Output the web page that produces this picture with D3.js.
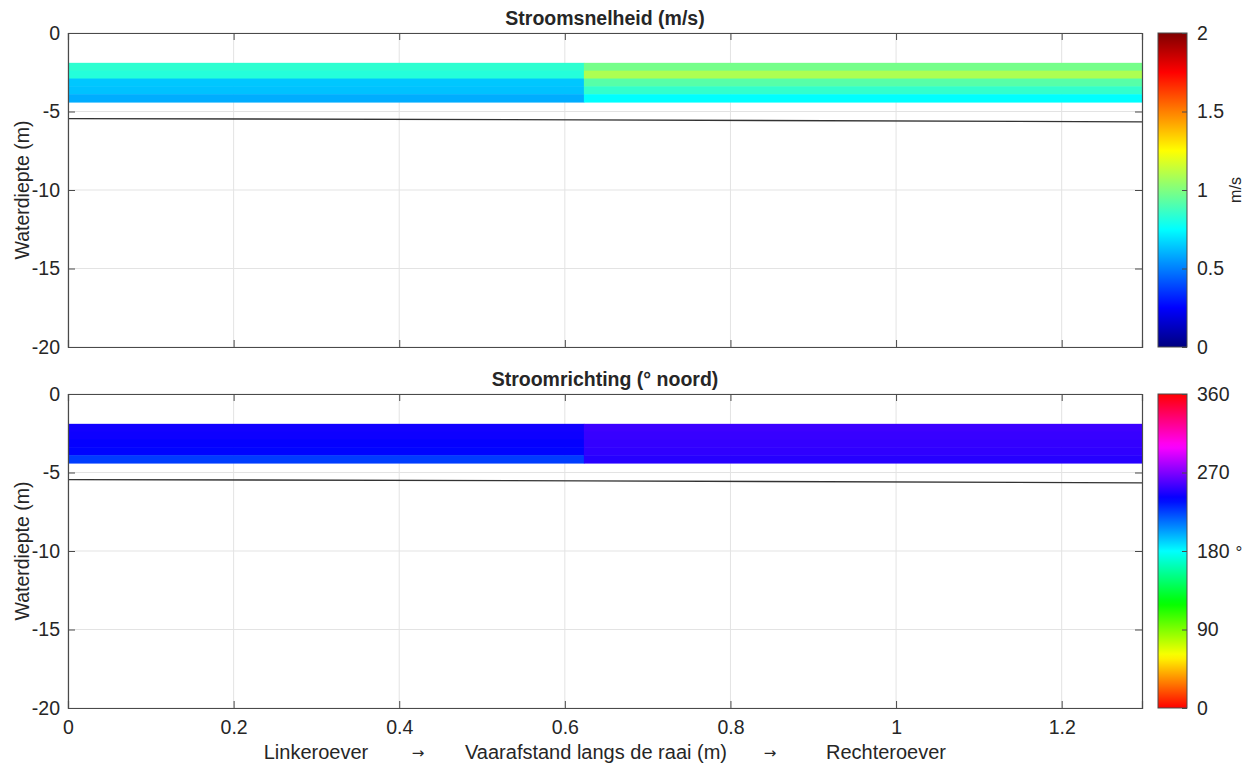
<!DOCTYPE html>
<html><head><meta charset="utf-8">
<script src="https://cdn.jsdelivr.net/npm/d3@7"></script>
<style>
body{margin:0;background:#fff;}
text{font-family:"Liberation Sans",Arial,Helvetica,sans-serif;fill:#262626;}
</style></head>
<body><svg id="chart" width="1252" height="769"></svg>
<script>
// ---- data ----
const xEdges = [0, 0.623, 1.297];              // distance bins (m)
const depthEdges = [1.9, 2.4, 2.9, 3.4, 3.9, 4.4]; // depth bins (m below surface)
const speed = [                                 // m/s, per column, rows top->bottom
  [0.84, 0.82, 0.64, 0.63, 0.59],
  [0.98, 1.09, 0.92, 0.85, 0.75]
];
const direction = [                             // degrees north
  [244, 243, 241, 239, 226],
  [254, 253, 252, 251, 249]
];
const bedX = [0, 0.62, 1.297];
const bedDepth = [-5.45, -5.53, -5.66];
const xTicks = [0, 0.2, 0.4, 0.6, 0.8, 1, 1.2];
const yTicks = [0, -5, -10, -15, -20];
const speedTicks = [0, 0.5, 1, 1.5, 2];
const dirTicks = [0, 90, 180, 270, 360];

// ---- colormaps ----
function jet(t){
  t = Math.max(0, Math.min(1, t));
  const f = x => Math.max(0, Math.min(1, x));
  const r = f(Math.min(4*t - 1.5, -4*t + 4.5));
  const g = f(Math.min(4*t - 0.5, -4*t + 3.5));
  const b = f(Math.min(4*t + 0.5, -4*t + 2.5));
  return d3.rgb(r*255, g*255, b*255).toString();
}
function hsvMap(t){ return d3.hsl(((t*360)%360), 1, 0.5).toString(); }

const fmt = d => String(d);
const FS = 19.5;
const svg = d3.select("#chart");
const defs = svg.append("defs");
const L = 68, R = 1142;
const x = d3.scaleLinear().domain([0, 1.297]).range([L, R]);

const panels = [
  {top:33, bottom:347, values:speed, domain:[0,2], cmap:jet, title:"Stroomsnelheid (m/s)", ticks:speedTicks, unit:"m/s", showX:false, id:"g1"},
  {top:394, bottom:708, values:direction, domain:[0,360], cmap:hsvMap, title:"Stroomrichting (° noord)", ticks:dirTicks, unit:"°", showX:true, id:"g2"}
];

panels.forEach(p => {
  const y = d3.scaleLinear().domain([-20, 0]).range([p.bottom, p.top]);
  const c = d3.scaleLinear().domain(p.domain).range([0,1]);
  const g = svg.append("g");
  // grid
  g.selectAll(".gx").data(xTicks).join("line")
    .attr("x1", d=>x(d)).attr("x2", d=>x(d)).attr("y1", p.top).attr("y2", p.bottom)
    .attr("stroke", "#e3e3e3").attr("stroke-width", 1);
  g.selectAll(".gy").data(yTicks).join("line")
    .attr("x1", L).attr("x2", R).attr("y1", d=>y(d)).attr("y2", d=>y(d))
    .attr("stroke", "#e3e3e3").attr("stroke-width", 1);
  // cells
  const cells = [];
  p.values.forEach((col, ci) => col.forEach((v, ri) => cells.push({ci, ri, v})));
  g.selectAll(".cell").data(cells).join("rect")
    .attr("x", d => x(xEdges[d.ci]))
    .attr("width", d => x(xEdges[d.ci+1]) - x(xEdges[d.ci]) + 0.5)
    .attr("y", d => y(-depthEdges[d.ri]))
    .attr("height", d => y(-depthEdges[d.ri+1]) - y(-depthEdges[d.ri]) + 0.5)
    .attr("fill", d => p.cmap(c(d.v)));
  // bed line
  const line = d3.line().x((d,i)=>x(bedX[i])).y(d=>y(d));
  g.append("path").datum(bedDepth).attr("d", line).attr("fill","none")
    .attr("stroke", "#333").attr("stroke-width", 1.3);
  // axes
  const ax = g.append("g").attr("transform", `translate(0,${p.bottom})`)
    .call(d3.axisBottom(x).tickValues(xTicks).tickSize(-7).tickPadding(12)
      .tickFormat(p.showX ? fmt : ""));
  const axT = g.append("g").attr("transform", `translate(0,${p.top})`)
    .call(d3.axisTop(x).tickValues(xTicks).tickSize(-7).tickFormat(""));
  const ay = g.append("g").attr("transform", `translate(${L},0)`)
    .call(d3.axisLeft(y).tickValues(yTicks).tickSize(-7).tickPadding(8).tickFormat(fmt));
  const ayR = g.append("g").attr("transform", `translate(${R},0)`)
    .call(d3.axisRight(y).tickValues(yTicks).tickSize(-7).tickFormat(""));
  [ax, axT, ay, ayR].forEach(a => {
    a.select(".domain").attr("stroke", "#4a4a4a").attr("stroke-width", 1.2);
    a.selectAll(".tick line").attr("stroke", "#4a4a4a");
    a.selectAll(".tick text").attr("font-size", FS).attr("fill", "#262626")
      .style("font-family", "'Liberation Sans',Arial,sans-serif");
  });
  // title
  svg.append("text").attr("x", (L+R)/2).attr("y", p.top - 8).attr("text-anchor","middle")
    .attr("font-size", 19.5).attr("font-weight","bold").attr("fill","#000").text(p.title);
  // y label
  svg.append("text").attr("transform", `translate(29,${(p.top+p.bottom)/2}) rotate(-90)`)
    .attr("text-anchor","middle").attr("font-size", FS).text("Waterdiepte (m)");
  // colorbar
  const cbX = 1158, cbW = 29;
  const grad = defs.append("linearGradient").attr("id", p.id)
    .attr("x1","0").attr("y1","1").attr("x2","0").attr("y2","0");
  d3.range(0, 1.0001, 1/64).forEach(t => grad.append("stop")
    .attr("offset", t).attr("stop-color", p.cmap(t)));
  const cy = d3.scaleLinear().domain(p.domain).range([p.bottom, p.top]);
  svg.append("rect").attr("x", cbX).attr("y", p.top).attr("width", cbW)
    .attr("height", p.bottom - p.top).attr("fill", `url(#${p.id})`)
    .attr("stroke", "#4a4a4a").attr("stroke-width", 1);
  const cb = svg.append("g").attr("transform", `translate(${cbX+cbW},0)`)
    .call(d3.axisRight(cy).tickValues(p.ticks).tickSize(-5).tickPadding(10).tickFormat(fmt));
  cb.select(".domain").remove();
  cb.selectAll(".tick line").attr("stroke", "#4a4a4a");
  cb.selectAll(".tick text").attr("font-size", FS).attr("fill","#262626")
    .style("font-family", "'Liberation Sans',Arial,sans-serif");
  if (p.unit === "m/s") {
    svg.append("text").attr("transform", `translate(1241,${(p.top+p.bottom)/2}) rotate(-90)`)
      .attr("text-anchor","middle").attr("font-size", 16).text(p.unit);
  } else {
    svg.append("text").attr("x", 1239).attr("y", (p.top+p.bottom)/2 + 7)
      .attr("text-anchor","middle").attr("font-size", 17).text(p.unit);
  }
});

// x label pieces
const xl = [["Linkeroever", 316, 20, "Liberation Sans"], ["→", 418, 15, "DejaVu Sans"],
            ["Vaarafstand langs de raai (m)", 596, 20, "Liberation Sans"], ["→", 770, 15, "DejaVu Sans"],
            ["Rechteroever", 886, 20, "Liberation Sans"]];
svg.selectAll(".xl").data(xl).join("text")
  .attr("x", d=>d[1]).attr("y", d => d[3] === "DejaVu Sans" ? 758 : 759).attr("text-anchor","middle")
  .attr("font-size", d=>d[2]).style("font-family", d=>`'${d[3]}',sans-serif`).text(d=>d[0]);
</script></body></html>
